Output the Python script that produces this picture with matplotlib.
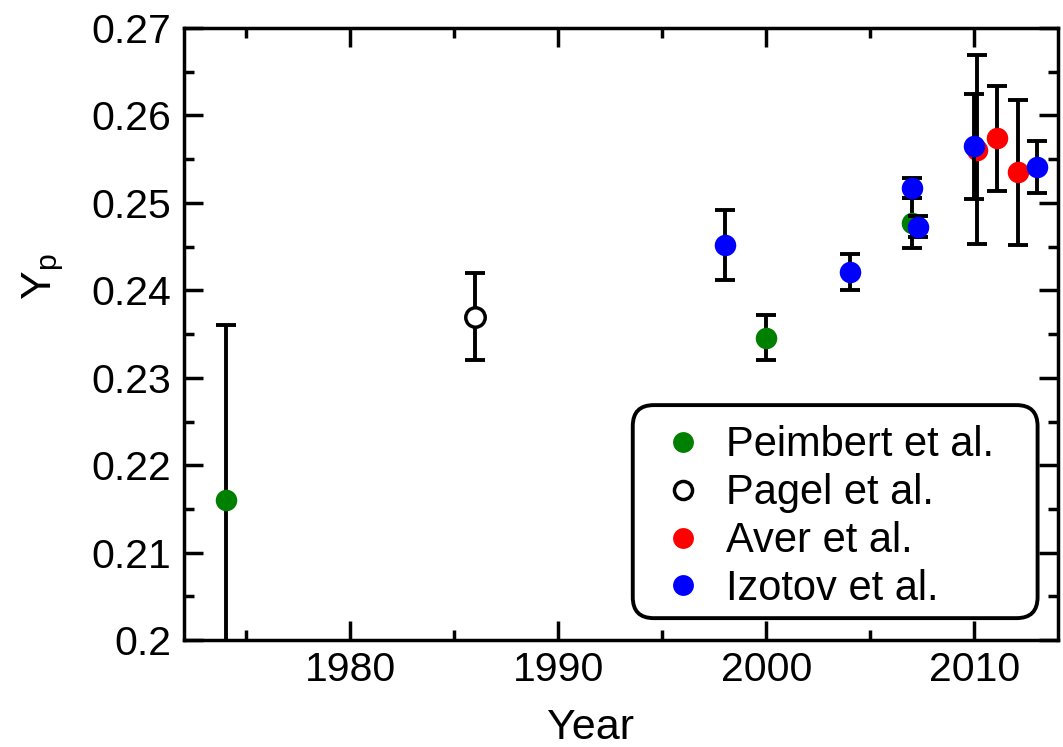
import matplotlib
matplotlib.use("Agg")
import matplotlib.pyplot as plt
from matplotlib.ticker import MultipleLocator, FuncFormatter
from matplotlib.lines import Line2D
from matplotlib.patches import FancyBboxPatch

plt.rcParams["font.family"] = ["Liberation Sans", "DejaVu Sans"]
plt.rcParams["mathtext.default"] = "regular"

# Primordial helium abundance measurements by year
peimbert_year = [1974, 2000, 2007]
peimbert_yp = [0.216, 0.2346, 0.2477]
peimbert_err = [0.020, 0.0026, 0.0029]

pagel_year = [1986]
pagel_yp = [0.237]
pagel_err = [0.005]

aver_year = [2010.1, 2011.1, 2012.1]
aver_yp = [0.2561, 0.2574, 0.2535]
aver_err = [0.0108, 0.0060, 0.0083]

izotov_year = [1998, 2004, 2007, 2007.3, 2010, 2013]
izotov_yp = [0.2452, 0.2421, 0.2517, 0.2473, 0.2565, 0.2541]
izotov_err = [0.0040, 0.0021, 0.0011, 0.0012, 0.0060, 0.0030]

series = [
    ("Peimbert et al.", peimbert_year, peimbert_yp, peimbert_err, "#008000", "#008000"),
    ("Pagel et al.", pagel_year, pagel_yp, pagel_err, "white", "black"),
    ("Aver et al.", aver_year, aver_yp, aver_err, "#ff0000", "#ff0000"),
    ("Izotov et al.", izotov_year, izotov_yp, izotov_err, "#0000ff", "#0000ff"),
]

fig = plt.figure(figsize=(10.63, 7.47), dpi=100)
ax = fig.add_axes([0.173, 0.143, 0.822, 0.8195])

for i, (name, x, y, e, fc, ec) in enumerate(series):
    ax.errorbar(x, y, yerr=e, fmt="none", ecolor="black", elinewidth=2.8,
                capsize=7.5, capthick=2.8, zorder=2 + i * 2)
    if fc == "white":
        ax.plot(x, y, "o", ms=14, mfc=fc, mec=ec, mew=2.5, zorder=3 + i * 2)
    else:
        ax.plot(x, y, "o", ms=15.5, mfc=fc, mec=ec, mew=0, zorder=3 + i * 2)

ax.set_xlim(1972, 2014)
ax.set_ylim(0.2, 0.27)
ax.xaxis.set_major_locator(MultipleLocator(10))
ax.xaxis.set_minor_locator(MultipleLocator(5))
ax.yaxis.set_major_locator(MultipleLocator(0.01))
ax.yaxis.set_minor_locator(MultipleLocator(0.005))
ax.yaxis.set_major_formatter(FuncFormatter(lambda v, p: "%g" % round(v, 3)))

ax.tick_params(which="both", direction="in", top=True, right=True, width=2.5,
               labelsize=29.5)
ax.tick_params(which="major", length=14)
ax.tick_params(which="minor", length=7)
ax.tick_params(axis="y", pad=9)
ax.tick_params(axis="x", pad=8)
for s in ax.spines.values():
    s.set_linewidth(2.5)

ax.set_xlabel("Year", fontsize=31)
ax.set_ylabel("Y$_p$", fontsize=31)
ax.xaxis.set_label_coords(0.465, -0.11)
ax.yaxis.set_label_coords(-0.135, 0.593)

handles = []
for name, x, y, e, fc, ec in series:
    if fc == "white":
        h = Line2D([], [], ls="none", marker="o", ms=13, mfc="white", mec="black", mew=2.5)
    else:
        h = Line2D([], [], ls="none", marker="o", ms=15, mfc=fc, mec=fc, mew=0)
    handles.append(h)

# legend entries without frame, rounded box drawn separately
leg = ax.legend(handles, [s[0] for s in series], loc="upper left",
                bbox_to_anchor=(0.547, 0.351), fontsize=30, frameon=False,
                handletextpad=0.55, labelspacing=0.19, borderpad=0,
                handlelength=1.0, borderaxespad=0)
leg.set_zorder(20)

box = FancyBboxPatch((0.5137, 0.036), 0.977 - 0.5137, 0.384 - 0.036,
                     boxstyle="round,pad=0,rounding_size=0.024",
                     mutation_aspect=874 / 612, transform=ax.transAxes,
                     facecolor="white", edgecolor="black", linewidth=2.8,
                     zorder=19)
ax.add_patch(box)

fig.savefig("out.png", dpi=100)
